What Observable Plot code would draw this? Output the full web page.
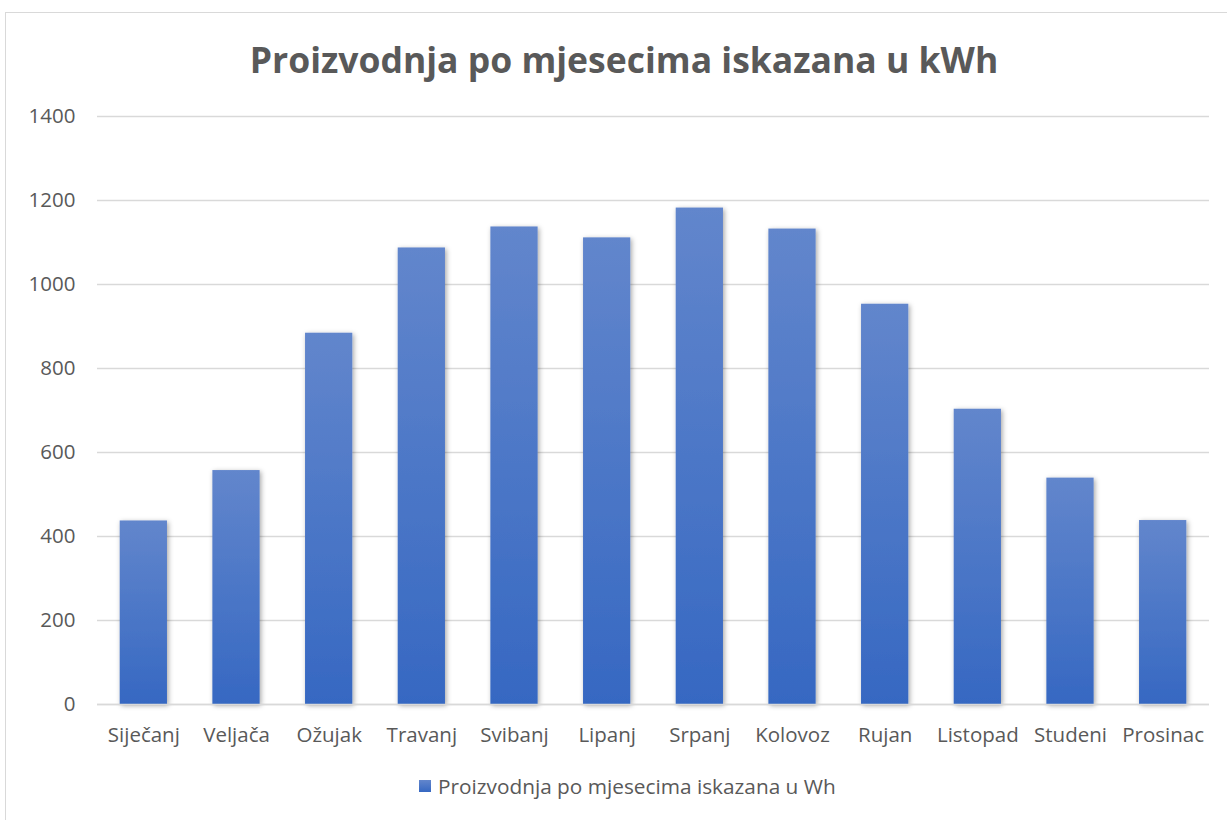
<!DOCTYPE html>
<html>
<head>
<meta charset="utf-8">
<script src="https://cdn.jsdelivr.net/npm/d3@7"></script>
<script src="https://cdn.jsdelivr.net/npm/@observablehq/plot@0.6"></script>
<style>
  html, body { margin: 0; padding: 0; background: #fff; }
  body { width: 1227px; height: 820px; overflow: hidden; position: relative; font-family: "Open Sans", sans-serif; }
  #frame { position: absolute; left: 5px; top: 12px; width: 1240px; height: 830px; border: 1px solid #d9d9d9; box-sizing: border-box; }
  #title { position: absolute; left: 0; width: 1248px; top: 34px; text-align: center; font-size: 35.5px; font-weight: 700; color: #595959; line-height: 50px; }
  #chart { position: absolute; left: 0; top: 96px; }
  #legend { position: absolute; left: 419px; top: 772px; display: flex; align-items: center; font-size: 20.8px; color: #595959; }
  #legend .sw { width: 12px; height: 12px; background: linear-gradient(#6286cc, #3668c2); margin-right: 7px; }
</style>
</head>
<body>
<div id="frame"></div>
<div id="title">Proizvodnja po mjesecima iskazana u kWh</div>
<div id="chart"></div>
<div id="legend"><div class="sw"></div><span>Proizvodnja po mjesecima iskazana u Wh</span></div>
<script>
const months = ["Siječanj","Veljača","Ožujak","Travanj","Svibanj","Lipanj","Srpanj","Kolovoz","Rujan","Listopad","Studeni","Prosinac"];
const values = [437, 557, 884, 1087, 1137, 1111, 1182, 1132, 953, 703, 539, 438];
const yTicks = [0, 200, 400, 600, 800, 1000, 1200, 1400];
const seriesName = "Proizvodnja po mjesecima iskazana u Wh";

const data = months.map((m, i) => ({month: m, value: values[i]}));

const plot = Plot.plot({
  width: 1227,
  height: 660,
  marginTop: 20,
  marginBottom: 52,
  marginLeft: 97,
  marginRight: 18,
  style: {fontFamily: "'Open Sans', sans-serif", color: "#595959", background: "transparent"},
  x: {domain: months, paddingInner: 0.49, paddingOuter: 0.245, round: false, label: null},
  y: {domain: [0, 1400], label: null},
  marks: [
    Plot.ruleY(yTicks, {stroke: "#d9d9d9", strokeWidth: 1.5}),
    Plot.barY(data, {x: "month", y: "value", fill: "url(#barGrad)"}),
    Plot.ruleY([0], {stroke: "#d9d9d9", strokeWidth: 1.5}),
    Plot.axisX({tickSize: 0, tickPadding: 23, fontSize: 20.5, fill: "#595959", label: null}),
    Plot.axisY({ticks: yTicks, tickFormat: d => String(d), tickSize: 0, tickPadding: 22, fontSize: 20.5, fill: "#595959", label: null})
  ]
});

const svg = d3.select(plot);
const defs = svg.insert("defs", ":first-child");
const g = defs.append("linearGradient").attr("id", "barGrad").attr("x1", 0).attr("y1", 0).attr("x2", 0).attr("y2", 1);
g.append("stop").attr("offset", "0%").attr("stop-color", "#6286cc");
g.append("stop").attr("offset", "100%").attr("stop-color", "#3668c2");
const f = defs.append("filter").attr("id", "shadow").attr("x", "-20%").attr("y", "-5%").attr("width", "140%").attr("height", "110%");
f.append("feDropShadow").attr("dx", 1.5).attr("dy", 1.5).attr("stdDeviation", 2.5).attr("flood-color", "#000").attr("flood-opacity", 0.35);
svg.selectAll("g[aria-label='bar'] rect").attr("filter", "url(#shadow)");

document.getElementById("chart").appendChild(plot);
</script>
</body>
</html>
